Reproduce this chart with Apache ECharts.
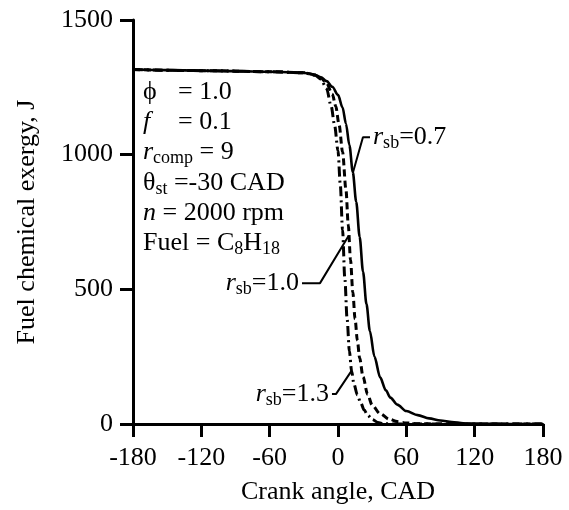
<!DOCTYPE html>
<html>
<head>
<meta charset="utf-8">
<script src="https://cdn.jsdelivr.net/npm/echarts@6/dist/echarts.min.js"></script>
<style>
html, body { margin: 0; padding: 0; background: #fff; }
#chart { width: 569px; height: 510px; }
</style>
</head>
<body>
<div id="chart"></div>
<script>
// r_sb = 0.7 (solid)
var angle07 = [-180, -150, -120, -90, -60, -40, -30, -25, -20, -15, -10, -5, 0, 4, 7, 10, 13, 16, 19, 22, 25, 28, 32, 37, 42, 46, 52, 60, 70, 80, 90, 100, 110, 120, 150, 180];
var exergy07 = [1316, 1314, 1312, 1310, 1308, 1306, 1304, 1301, 1296, 1287, 1273, 1252, 1222, 1175, 1115, 1035, 935, 825, 695, 565, 445, 345, 250, 173, 125, 98, 72, 48, 33, 21, 13, 7, 3, 1, 0, 0];
// r_sb = 1.0 (dashed)
var angle10 = [-180, -120, -60, -30, -20, -15, -10, -5, -2, 1, 4, 7, 9, 11, 13, 15, 17, 19, 22, 26, 30, 37, 45, 52, 60, 70, 90, 180];
var exergy10 = [1316, 1312, 1308, 1304, 1296, 1285, 1265, 1225, 1180, 1110, 1010, 870, 740, 610, 490, 390, 310, 245, 175, 110, 70, 38, 18, 9, 4, 1, 0, 0];
// r_sb = 1.3 (dash-dot)
var angle13 = [-180, -120, -60, -30, -20, -15, -10, -6, -3, 0, 2, 4, 6, 8, 10, 12, 14, 17, 20, 23, 26, 30, 35, 40, 50, 180];
var exergy13 = [1316, 1312, 1308, 1304, 1295, 1280, 1245, 1180, 1110, 1015, 890, 720, 540, 390, 270, 195, 148, 108, 78, 52, 33, 17, 6, 1, 0, 0];

// leader lines for the curve labels (curve point -> label)
var leader07 = [[13.2, 935], [21.9, 1065], [28.1, 1065]];
var leader10 = [[9.5, 700], [-15.8, 523], [-31.6, 523]];
var leader13 = [[12.3, 200], [-1.8, 111], [-5.3, 111]];

var font = 'Liberation Serif';

function pairs(xs, ys) {
	var out = [];
	for (var i = 0; i < xs.length; i++) {
		out.push([xs[i], ys[i]]);
	}
	return out;
}

var chart = echarts.init(document.getElementById('chart'));

var axisText = { fontFamily: font, fontSize: 26, color: '#000' };

function curve(data, type, width) {
	return {
		type: 'line',
		data: data,
		symbol: 'none',
		smooth: 0.3,
		smoothMonotone: 'x',
		lineStyle: { color: '#000', width: width, type: type },
		silent: true
	};
}

function leader(data) {
	return {
		type: 'line',
		data: data,
		symbol: 'none',
		lineStyle: { color: '#000', width: 2 },
		silent: true
	};
}

chart.setOption({
	animation: false,
	grid: { left: 133, right: 26, top: 20, bottom: 83 },
	xAxis: {
		type: 'value',
		min: -180,
		max: 180,
		interval: 60,
		name: 'Crank angle, CAD',
		nameLocation: 'middle',
		nameGap: 55,
		nameTextStyle: axisText,
		axisLine: { onZero: false, lineStyle: { color: '#000', width: 3 } },
		axisTick: { length: 13, lineStyle: { color: '#000', width: 3 } },
		axisLabel: { margin: 21, fontFamily: font, fontSize: 26, color: '#000' },
		splitLine: { show: false }
	},
	yAxis: {
		type: 'value',
		min: 0,
		max: 1500,
		interval: 500,
		name: 'Fuel chemical exergy, J',
		nameLocation: 'middle',
		nameGap: 93,
		nameTextStyle: axisText,
		axisLine: { show: true, onZero: false, lineStyle: { color: '#000', width: 3 } },
		axisTick: { show: true, length: 13, lineStyle: { color: '#000', width: 3 } },
		axisLabel: {
			margin: 20, fontFamily: font, fontSize: 26, color: '#000',
			formatter: function (v) { return String(v); }
		},
		splitLine: { show: false }
	},
	series: [
		curve(pairs(angle07, exergy07), 'solid', 2.6),
		curve(pairs(angle10, exergy10), [7, 4], 3),
		curve(pairs(angle13, exergy13), [10, 4, 2, 4], 3),
		leader(leader07),
		leader(leader10),
		leader(leader13)
	]
});

// rich text styles for the annotations
var rich = {
	m: { fontFamily: font, fontSize: 26, lineHeight: 30, fill: '#000' },
	i: { fontFamily: font, fontSize: 26, fontStyle: 'italic', lineHeight: 30, fill: '#000' },
	s: { fontFamily: font, fontSize: 18, lineHeight: 20, verticalAlign: 'bottom', fill: '#000' },
	t: { fontFamily: font, fontSize: 18, lineHeight: 24, verticalAlign: 'bottom', fill: '#000' },
	w: { fontFamily: font, fontSize: 26, lineHeight: 30, width: 35, fill: '#000' },
	wi: { fontFamily: font, fontSize: 26, fontStyle: 'italic', lineHeight: 30, width: 35, fill: '#000' }
};

var paramLines = [
	'{w|\u03d5}{m|= 1.0}',
	'{wi|f}{m|= 0.1}',
	'{i|r}{s|comp}{m| = 9}',
	'{m|\u03b8}{t|st}{m| =-30 CAD}',
	'{i|n}{m| = 2000 rpm}',
	'{m|Fuel = C}{t|8}{m|H}{t|18}'
];
var paramY = [92, 122, 152, 183, 213, 243];

var graphics = [];
for (var k = 0; k < paramLines.length; k++) {
	graphics.push({
		type: 'text',
		x: 143,
		y: paramY[k],
		silent: true,
		style: { text: paramLines[k], rich: rich, align: 'left', verticalAlign: 'middle' }
	});
}

function label(pt, text, side) {
	var p = chart.convertToPixel({ gridIndex: 0 }, pt);
	return {
		type: 'text',
		x: side === 'right' ? p[0] + 3 : p[0] - 3,
		y: p[1],
		silent: true,
		style: { text: text, rich: rich, align: side === 'right' ? 'left' : 'right', verticalAlign: 'middle' }
	};
}

graphics.push(label(leader07[2], '{i|r}{s|sb}{m|=0.7}', 'right'));
graphics.push(label(leader10[2], '{i|r}{s|sb}{m|=1.0}', 'left'));
graphics.push(label(leader13[2], '{i|r}{s|sb}{m|=1.3}', 'left'));

chart.setOption({ graphic: graphics });
</script>
</body>
</html>
